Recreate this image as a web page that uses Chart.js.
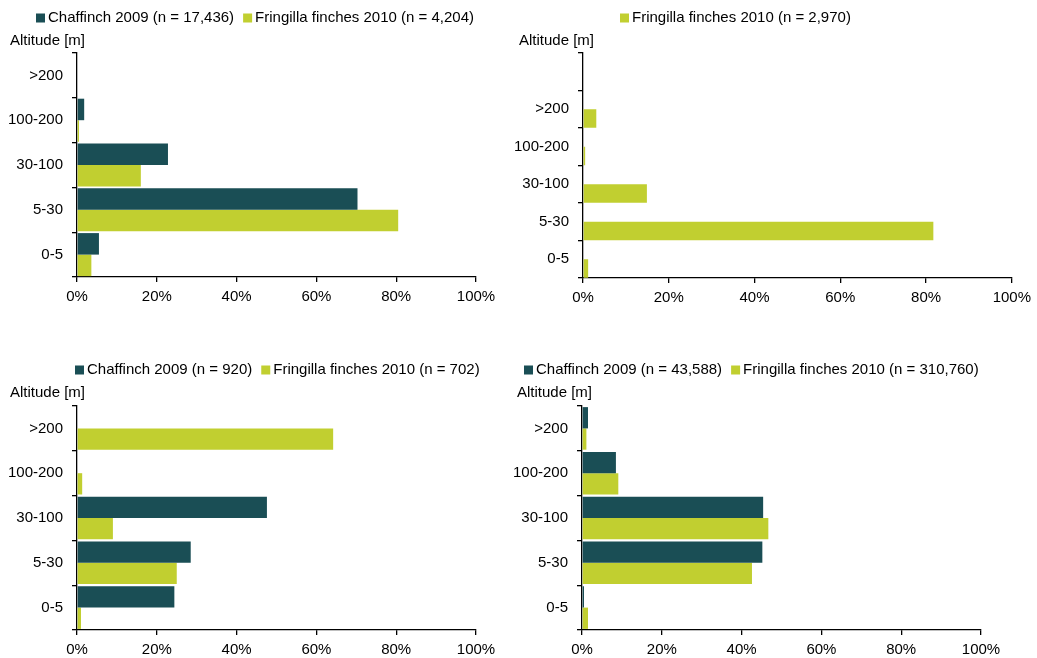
<!DOCTYPE html>
<html>
<head>
<meta charset="utf-8">
<script src="https://cdn.jsdelivr.net/npm/chart.js@4.4.0/dist/chart.umd.min.js"></script>
<style>
  body { margin: 0; background: #fff; }
  #wrap { position: relative; width: 1037px; height: 658px; overflow: hidden; }
  .panel { position: absolute; }
</style>
</head>
<body>
<div id="wrap">
  <div class="panel" style="left:0;top:0;width:520px;height:329px"><canvas id="c1"></canvas></div>
  <div class="panel" style="left:510px;top:0;width:527px;height:329px"><canvas id="c2"></canvas></div>
  <div class="panel" style="left:0;top:329px;width:520px;height:329px"><canvas id="c3"></canvas></div>
  <div class="panel" style="left:510px;top:329px;width:527px;height:329px"><canvas id="c4"></canvas></div>
</div>
<script>
// altitude bands, top to bottom
const altitudeBands = ['>200', '100-200', '30-100', '5-30', '0-5'];
const altitudeBandsTR = ['', '>200', '100-200', '30-100', '5-30', '0-5'];
const xTicks = [0, 20, 40, 60, 80, 100];

// share of birds per band (%)
const chaffinchTL = [0, 1.8, 22.8, 70.3, 5.5];
const fringillaTL = [0, 0.5, 16.0, 80.5, 3.6];
const chaffinchTR = [null, null, null, null, null, null];
const fringillaTR = [null, 3.1, 0.5, 14.9, 81.7, 1.2];
const chaffinchBL = [0, 0, 47.6, 28.5, 24.4];
const fringillaBL = [64.2, 1.3, 9.0, 25.0, 1.0];
const chaffinchBR = [1.5, 8.5, 45.4, 45.2, 0.5];
const fringillaBR = [1.1, 9.1, 46.7, 42.6, 1.5];

const legendTL = ['Chaffinch 2009 (n = 17,436)', 'Fringilla finches 2010 (n = 4,204)'];
const legendTR = ['', 'Fringilla finches 2010 (n = 2,970)'];
const legendBL = ['Chaffinch 2009 (n = 920)', 'Fringilla finches 2010 (n = 702)'];
const legendBR = ['Chaffinch 2009 (n = 43,588)', 'Fringilla finches 2010 (n = 310,760)'];

const DARK = '#1a4e55';
const LIME = '#c1cf30';
const FONT = '"Liberation Sans", Arial, sans-serif';

Chart.defaults.font.family = FONT;
Chart.defaults.font.size = 15;
Chart.defaults.color = '#000';

// legend + "Altitude [m]" drawn on the canvas at given spots
const headerPlugin = {
  id: 'header',
  afterDraw(chart, args, opts) {
    const ctx = chart.ctx;
    ctx.save();
    ctx.font = '15px ' + FONT;
    ctx.textBaseline = 'middle';
    ctx.textAlign = 'left';
    let x = opts.legendX;
    chart.data.datasets.forEach(ds => {
      if (!ds.label) return;
      ctx.fillStyle = ds.backgroundColor;
      ctx.fillRect(x, opts.legendY - 4.5, 9, 9);
      x += 12;
      ctx.fillStyle = '#000';
      ctx.fillText(ds.label, x, opts.legendY);
      x += ctx.measureText(ds.label).width + 9;
    });
    ctx.fillText('Altitude [m]', opts.titleX, opts.titleY);
    ctx.restore();
  }
};

function makeChart(id, labels, dark, lime, names, cfg) {
  new Chart(document.getElementById(id), {
    type: 'bar',
    data: {
      labels: labels,
      datasets: [
        { label: names[0], data: dark, backgroundColor: DARK, borderWidth: 0 },
        { label: names[1], data: lime, backgroundColor: LIME, borderWidth: 0 }
      ]
    },
    options: {
      indexAxis: 'y',
      responsive: true,
      maintainAspectRatio: false,
      animation: false,
      categoryPercentage: cfg.cat,
      barPercentage: 1.0,
      layout: { padding: cfg.padding },
      plugins: {
        legend: { display: false },
        tooltip: { enabled: false },
        header: cfg.header
      },
      scales: {
        x: {
          min: 0, max: 100,
          afterBuildTicks: s => { s.ticks = xTicks.map(v => ({ value: v })); },
          afterFit: s => { s.height = 30; },
          ticks: { callback: v => v + '%', padding: 6, maxRotation: 0 },
          grid: { drawOnChartArea: false, color: '#000', tickLength: 5, lineWidth: 1.3 },
          border: { color: '#000', width: 1.3 }
        },
        y: {
          afterFit: s => { s.width = cfg.yWidth; },
          ticks: { padding: 9, autoSkip: false },
          grid: { offset: true, drawOnChartArea: false, color: '#000', tickLength: 5, lineWidth: 1.3 },
          border: { color: '#000', width: 1.3 }
        }
      }
    },
    plugins: [headerPlugin]
  });
}

makeChart('c1', altitudeBands, chaffinchTL, fringillaTL, legendTL, {
  cat: 0.96, yWidth: 77,
  padding: { left: 0, right: 44, top: 53, bottom: 22 },
  header: { legendX: 36, legendY: 18, titleX: 10, titleY: 41 }
});
makeChart('c2', altitudeBandsTR, chaffinchTR, fringillaTR, legendTR, {
  cat: 0.99, yWidth: 73,
  padding: { left: 0, right: 25, top: 53, bottom: 21 },
  header: { legendX: 110, legendY: 18, titleX: 9, titleY: 41 }
});
makeChart('c3', altitudeBands, chaffinchBL, fringillaBL, legendBL, {
  cat: 0.95, yWidth: 77,
  padding: { left: 0, right: 44, top: 77, bottom: -2 },
  header: { legendX: 75, legendY: 41, titleX: 10, titleY: 64 }
});
makeChart('c4', altitudeBands, chaffinchBR, fringillaBR, legendBR, {
  cat: 0.95, yWidth: 72,
  padding: { left: 0, right: 56, top: 77, bottom: -2 },
  header: { legendX: 14, legendY: 41, titleX: 7, titleY: 64 }
});
</script>
</body>
</html>
